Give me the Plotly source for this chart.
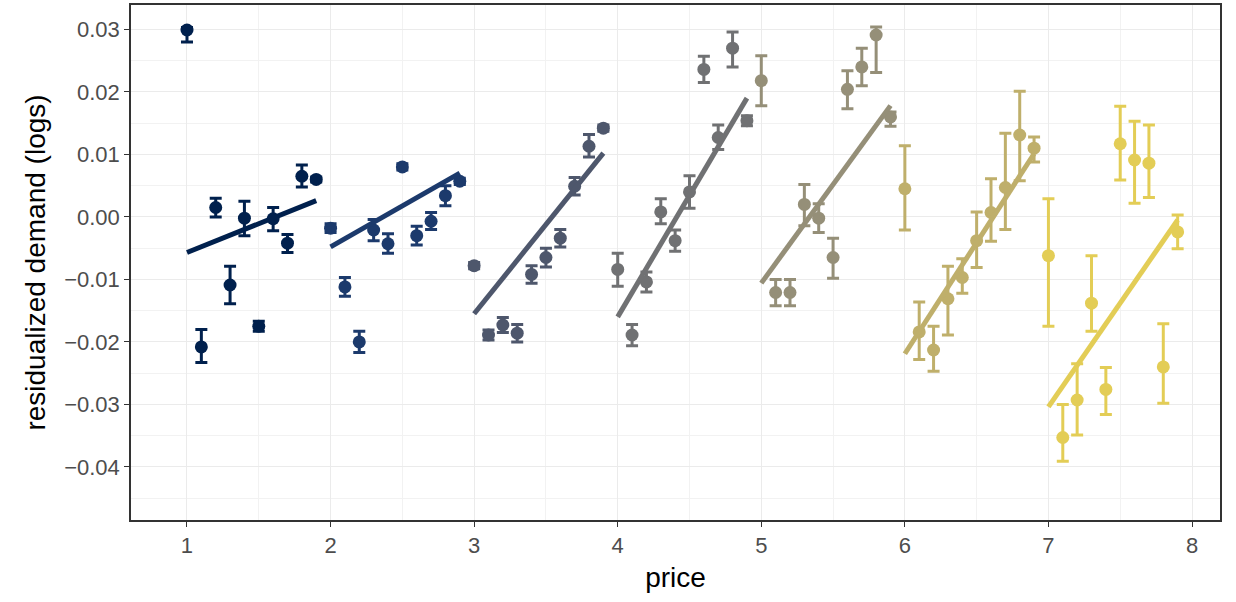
import plotly.graph_objects as go

# price offsets within each group (group k covers prices k .. k+0.9)
groups = [1, 2, 3, 4, 5, 6, 7]
offsets = [0.0, 0.1, 0.2, 0.3, 0.4, 0.5, 0.6, 0.7, 0.8, 0.9]

demand_g1 = [0.0299, -0.0208, 0.0015, -0.0109, -0.0002, -0.0175, -0.0003, -0.0042, 0.0065, 0.0060]
demand_g2 = [-0.0018, -0.0112, -0.0200, -0.0021, -0.0043, 0.0080, -0.0030, -0.0007, 0.0034, 0.0057]
demand_g3 = [-0.0078, -0.0189, -0.0173, -0.0186, -0.0092, -0.0065, -0.0034, 0.0049, 0.0113, 0.0142]
demand_g4 = [-0.0084, -0.0189, -0.0104, 0.0008, -0.0038, 0.0040, 0.0236, 0.0127, 0.0270, 0.0154]
demand_g5 = [0.0218, -0.0121, -0.0121, 0.0020, -0.0002, -0.0065, 0.0204, 0.0240, 0.0291, 0.0160]
demand_g6 = [0.0045, -0.0184, -0.0213, -0.0131, -0.0097, -0.0038, 0.0007, 0.0047, 0.0131, 0.0110]
demand_g7 = [-0.0062, -0.0353, -0.0293, -0.0138, -0.0276, 0.0117, 0.0091, 0.0086, -0.0240, -0.0024]

err_up_g1 = [0.0004, 0.0028, 0.0015, 0.0030, 0.0027, 0.0008, 0.0018, 0.0014, 0.0018, 0.0004]
err_up_g2 = [0.0007, 0.0015, 0.0017, 0.0017, 0.0016, 0.0005, 0.0015, 0.0014, 0.0016, 0.0005]
err_up_g3 = [0.0005, 0.0008, 0.0012, 0.0014, 0.0014, 0.0015, 0.0014, 0.0014, 0.0019, 0.0005]
err_up_g4 = [0.0026, 0.0017, 0.0016, 0.0021, 0.0017, 0.0026, 0.0021, 0.0020, 0.0026, 0.0008]
err_up_g5 = [0.0040, 0.0021, 0.0021, 0.0032, 0.0023, 0.0031, 0.0030, 0.0030, 0.0013, 0.0008]
err_up_g6 = [0.0069, 0.0048, 0.0038, 0.0052, 0.0030, 0.0046, 0.0054, 0.0087, 0.0070, 0.0018]
err_up_g7 = [0.0091, 0.0053, 0.0058, 0.0076, 0.0035, 0.0060, 0.0062, 0.0061, 0.0069, 0.0027]

err_dn_g1 = [0.0019, 0.0025, 0.0015, 0.0030, 0.0028, 0.0008, 0.0019, 0.0015, 0.0017, 0.0004]
err_dn_g2 = [0.0007, 0.0015, 0.0017, 0.0017, 0.0015, 0.0005, 0.0015, 0.0013, 0.0016, 0.0005]
err_dn_g3 = [0.0005, 0.0008, 0.0012, 0.0014, 0.0014, 0.0015, 0.0014, 0.0014, 0.0017, 0.0005]
err_dn_g4 = [0.0027, 0.0017, 0.0016, 0.0019, 0.0017, 0.0026, 0.0021, 0.0019, 0.0030, 0.0008]
err_dn_g5 = [0.0040, 0.0021, 0.0021, 0.0034, 0.0023, 0.0033, 0.0031, 0.0030, 0.0060, 0.0015]
err_dn_g6 = [0.0066, 0.0044, 0.0034, 0.0058, 0.0025, 0.0043, 0.0046, 0.0067, 0.0073, 0.0022]
err_dn_g7 = [0.0113, 0.0038, 0.0056, 0.0045, 0.0040, 0.0058, 0.0069, 0.0055, 0.0058, 0.0027]

# fitted line values at the start (k) and end (k+0.9) of each group
fit_start = [-0.0057, -0.0048, -0.0155, -0.0160, -0.0106, -0.0219, -0.0304]
fit_end = [0.0026, 0.0070, 0.0102, 0.0190, 0.0178, 0.0101, -0.0005]

colors = ["#00204D", "#1C3A6C", "#4E576C", "#707173", "#958F78", "#BFAF6B", "#E3CD56"]

x_ticks = [1, 2, 3, 4, 5, 6, 7, 8]
y_ticks = [0.03, 0.02, 0.01, 0.00, -0.01, -0.02, -0.03, -0.04]
y_tick_labels = ["0.03", "0.02", "0.01", "0.00", "\u22120.01", "\u22120.02", "\u22120.03", "\u22120.04"]

demands = [demand_g1, demand_g2, demand_g3, demand_g4, demand_g5, demand_g6, demand_g7]
errs_up = [err_up_g1, err_up_g2, err_up_g3, err_up_g4, err_up_g5, err_up_g6, err_up_g7]
errs_dn = [err_dn_g1, err_dn_g2, err_dn_g3, err_dn_g4, err_dn_g5, err_dn_g6, err_dn_g7]

fig = go.Figure()
for g, d, eu, ed, c in zip(groups, demands, errs_up, errs_dn, colors):
    xs = [round(g + o, 2) for o in offsets]
    fig.add_trace(go.Scatter(
        x=xs, y=d, mode="markers",
        marker=dict(color=c, size=13, line=dict(width=0)),
        error_y=dict(type="data", symmetric=False, array=eu, arrayminus=ed,
                     color=c, thickness=3, width=6),
        showlegend=False, hoverinfo="x+y",
    ))
for g, s, e, c in zip(groups, fit_start, fit_end, colors):
    fig.add_trace(go.Scatter(
        x=[g + offsets[0], g + offsets[-1]], y=[s, e], mode="lines",
        line=dict(color=c, width=5), showlegend=False,
    ))

grid_major = "#EBEBEB"
fig.update_layout(
    width=1236, height=602,
    margin=dict(l=131, r=16, t=5, b=82),
    paper_bgcolor="white", plot_bgcolor="white",
    font=dict(family="Liberation Sans, Arial, sans-serif", color="#4D4D4D", size=22),
    xaxis=dict(
        range=[0.61, 8.195], tickvals=x_ticks, ticktext=[str(t) for t in x_ticks],
        showgrid=True, gridcolor=grid_major, gridwidth=1.4,
        minor=dict(dtick=0.5, tick0=0.5, showgrid=True, gridcolor="#F2F2F2", gridwidth=0.8, ticks=""),
        showline=True, linecolor="#333333", linewidth=1.5, mirror=True,
        ticks="outside", ticklen=5, tickcolor="#333333", tickwidth=1.4,
        tickfont=dict(size=22, color="#4D4D4D"), zeroline=False, automargin=False,
        title=dict(text="price", font=dict(size=28, color="black"), standoff=10),
    ),
    yaxis=dict(
        range=[-0.0485, 0.0339], tickvals=y_ticks, ticktext=y_tick_labels,
        showgrid=True, gridcolor=grid_major, gridwidth=1.4,
        minor=dict(dtick=0.005, tick0=0.005, showgrid=True, gridcolor="#F2F2F2", gridwidth=0.8, ticks=""),
        showline=True, linecolor="#333333", linewidth=1.5, mirror=True,
        ticks="outside", ticklen=5, tickcolor="#333333", tickwidth=1.4,
        tickfont=dict(size=22, color="#4D4D4D"), zeroline=False, automargin=False,
        title=dict(text="residualized demand (logs)", font=dict(size=28, color="black"), standoff=10),
    ),
)

fig.write_html("out.html", config={"displayModeBar": False},
               post_script="document.body.style.margin='0';")
